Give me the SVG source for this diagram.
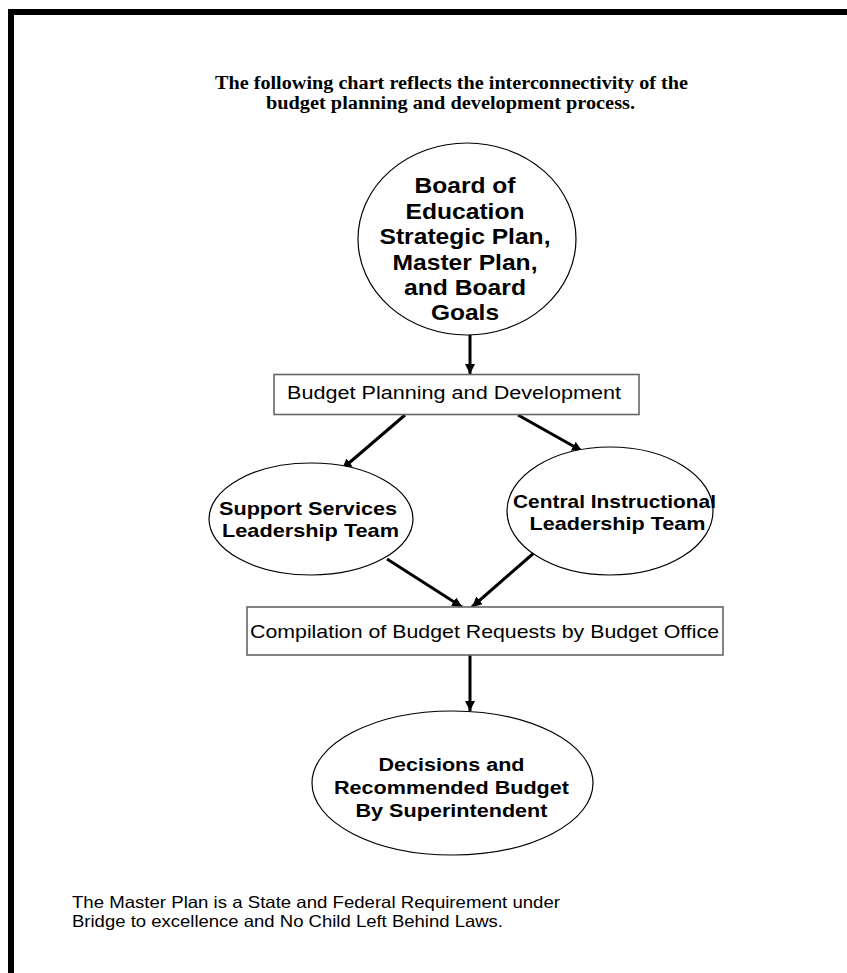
<svg xmlns="http://www.w3.org/2000/svg" width="847" height="973" viewBox="0 0 847 973">
<style>
.title{font-family:"Liberation Serif","Times New Roman",serif;font-weight:bold;font-size:18px;fill:#000}
.nb{font-family:"Liberation Sans",Arial,sans-serif;font-weight:bold;fill:#000}
.nr{font-family:"Liberation Sans",Arial,sans-serif;fill:#000}
.ell{fill:#fff;stroke:#000;stroke-width:1.2}
.box{fill:#fff;stroke:#666;stroke-width:1.6}
.conn{stroke:#000;stroke-width:3;fill:none;marker-end:url(#ah)}
</style>
<defs>
<marker id="ah" viewBox="0 0 10 10" refX="10" refY="5" markerUnits="userSpaceOnUse" markerWidth="10" markerHeight="10" orient="auto">
<path d="M0,0 L10,5 L0,10 z" fill="#000"/>
</marker>
</defs>
<rect width="847" height="973" fill="#fff"/>
<g id="border">
<rect x="8" y="9" width="839" height="6" fill="#000"/>
<rect x="8" y="9" width="6" height="964" fill="#000"/>
</g>
<g id="title">
<text class="title" x="451.5" y="89" text-anchor="middle" textLength="473" lengthAdjust="spacingAndGlyphs">The following chart reflects the interconnectivity of the</text>
<text class="title" x="450.5" y="109" text-anchor="middle" textLength="369" lengthAdjust="spacingAndGlyphs">budget planning and development process.</text>
</g>
<g id="connectors">
<line class="conn" x1="470" y1="335" x2="470" y2="374"/>
<line class="conn" x1="405" y1="415" x2="342" y2="469"/>
<line class="conn" x1="518" y1="415" x2="582" y2="451"/>
<line class="conn" x1="387" y1="559" x2="462" y2="607"/>
<line class="conn" x1="535" y1="552" x2="472" y2="607"/>
<line class="conn" x1="470" y1="655" x2="470" y2="711"/>
</g>
<g id="board">
<ellipse class="ell" cx="467" cy="239" rx="109" ry="96"/>
<text class="nb" font-size="22" text-anchor="middle" x="465" y="193" textLength="101" lengthAdjust="spacingAndGlyphs">Board of</text>
<text class="nb" font-size="22" text-anchor="middle" x="465" y="219" textLength="119" lengthAdjust="spacingAndGlyphs">Education</text>
<text class="nb" font-size="22" text-anchor="middle" x="465" y="244" textLength="171" lengthAdjust="spacingAndGlyphs">Strategic Plan,</text>
<text class="nb" font-size="22" text-anchor="middle" x="465" y="270" textLength="145" lengthAdjust="spacingAndGlyphs">Master Plan,</text>
<text class="nb" font-size="22" text-anchor="middle" x="465" y="295" textLength="122" lengthAdjust="spacingAndGlyphs">and Board</text>
<text class="nb" font-size="22" text-anchor="middle" x="465" y="320" textLength="68" lengthAdjust="spacingAndGlyphs">Goals</text>
</g>
<g id="budget-planning">
<rect class="box" x="274" y="374.5" width="365" height="40"/>
<text class="nr" font-size="17.5" text-anchor="middle" x="454" y="399" textLength="334" lengthAdjust="spacingAndGlyphs">Budget Planning and Development</text>
</g>
<g id="support">
<ellipse class="ell" cx="311" cy="519" rx="102" ry="56"/>
<text class="nb" font-size="19" text-anchor="middle" x="308" y="515" textLength="178" lengthAdjust="spacingAndGlyphs">Support Services</text>
<text class="nb" font-size="19" text-anchor="middle" x="310.5" y="537" textLength="177" lengthAdjust="spacingAndGlyphs">Leadership Team</text>
</g>
<g id="central">
<ellipse class="ell" cx="610" cy="511" rx="103" ry="64"/>
<text class="nb" font-size="19" text-anchor="middle" x="614.5" y="507.5" textLength="203" lengthAdjust="spacingAndGlyphs">Central Instructional</text>
<text class="nb" font-size="19" text-anchor="middle" x="617.5" y="529.5" textLength="176" lengthAdjust="spacingAndGlyphs">Leadership Team</text>
</g>
<g id="compilation">
<rect class="box" x="247" y="607" width="476" height="48"/>
<text class="nr" font-size="19" x="250" y="638" textLength="469" lengthAdjust="spacingAndGlyphs">Compilation of Budget Requests by Budget Office</text>
</g>
<g id="decisions">
<ellipse class="ell" cx="452.5" cy="783" rx="140.5" ry="72"/>
<text class="nb" font-size="18" text-anchor="middle" x="451.5" y="771" textLength="146" lengthAdjust="spacingAndGlyphs">Decisions and</text>
<text class="nb" font-size="18" text-anchor="middle" x="451.5" y="794" textLength="235" lengthAdjust="spacingAndGlyphs">Recommended Budget</text>
<text class="nb" font-size="18" text-anchor="middle" x="451.5" y="817" textLength="192" lengthAdjust="spacingAndGlyphs">By Superintendent</text>
</g>
<g id="footnote">
<text class="nr" font-size="16.5" x="72" y="908" textLength="488" lengthAdjust="spacingAndGlyphs">The Master Plan is a State and Federal Requirement under</text>
<text class="nr" font-size="16.5" x="72" y="927" textLength="431" lengthAdjust="spacingAndGlyphs">Bridge to excellence and No Child Left Behind Laws.</text>
</g>
</svg>
